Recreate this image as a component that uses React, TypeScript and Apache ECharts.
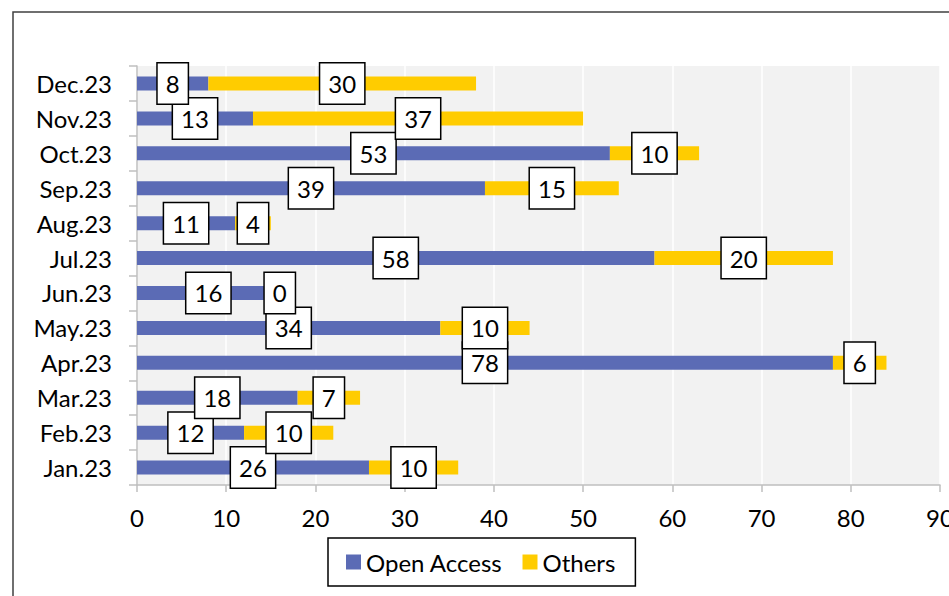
import React, { useEffect, useRef } from "react";
import * as echarts from "echarts";

const categories = ["Jan.23", "Feb.23", "Mar.23", "Apr.23", "May.23", "Jun.23", "Jul.23", "Aug.23", "Sep.23", "Oct.23", "Nov.23", "Dec.23"];
const openAccess = [26, 12, 18, 78, 34, 16, 58, 11, 39, 53, 13, 8];
const others = [10, 10, 7, 6, 10, 0, 20, 4, 15, 10, 37, 30];
const xTicks = { min: 0, max: 90, interval: 10 };

const FONT = "Lato";

const labelStyle = {
  show: true,
  position: "inside" as const,
  color: "#000",
  fontFamily: FONT,
  fontSize: 24,
  lineHeight: 26,
  backgroundColor: "#fff",
  borderColor: "#000",
  borderWidth: 1.5,
  padding: [7, 8, 7, 8],
};

export default function App() {
  const ref = useRef<HTMLDivElement>(null);
  useEffect(() => {
    const chart = echarts.init(ref.current!, null, { renderer: "svg" });
    chart.setOption({
      animation: false,
      textStyle: { fontFamily: FONT },
      graphic: [
        {
          type: "rect",
          shape: { x: 13, y: 12, width: 1000, height: 1000 },
          style: { fill: "none", stroke: "#404040", lineWidth: 1.5 },
          silent: true,
          z: -1,
        },
      ],
      grid: {
        left: 137,
        right: 9,
        top: 66,
        bottom: 111,
        show: true,
        backgroundColor: "#f2f2f2",
        borderWidth: 0,
        containLabel: false,
        outerBoundsMode: "none",
      },
      legend: {
        left: 328,
        top: 538,
        itemWidth: 15,
        itemHeight: 15,
        itemGap: 20,
        icon: "rect",
        borderColor: "#000",
        borderWidth: 1.5,
        padding: [12, 20, 12, 18],
        textStyle: { fontFamily: FONT, fontSize: 24, color: "#000" },
        data: ["Open Access", "Others"],
      },
      xAxis: {
        type: "value",
        min: xTicks.min,
        max: xTicks.max,
        interval: xTicks.interval,
        axisLine: { show: true, lineStyle: { color: "#bfbfbf", width: 1.5 } },
        axisTick: { show: true, length: 7, lineStyle: { color: "#bfbfbf", width: 1.5 } },
        splitLine: { show: true, lineStyle: { color: "#ffffff", width: 1.5 } },
        axisLabel: { color: "#000", fontFamily: FONT, fontSize: 24, margin: 20 },
      },
      yAxis: {
        type: "category",
        data: categories,
        axisLine: { show: true, lineStyle: { color: "#bfbfbf", width: 1.5 } },
        axisTick: { show: true, length: 8, lineStyle: { color: "#bfbfbf", width: 1.5 } },
        axisLabel: { color: "#000", fontFamily: FONT, fontSize: 24, margin: 25 },
      },
      series: [
        {
          name: "Open Access",
          type: "bar",
          stack: "total",
          data: openAccess,
          barWidth: 14,
          itemStyle: { color: "#5b6bb5" },
          label: labelStyle,
        },
        {
          name: "Others",
          type: "bar",
          stack: "total",
          data: others,
          barWidth: 14,
          itemStyle: { color: "#ffcc00" },
          label: labelStyle,
        },
      ],
    });
    return () => chart.dispose();
  }, []);
  return <div ref={ref} style={{ position: "absolute", left: 0, top: 0, width: 949, height: 596 }} />;
}
